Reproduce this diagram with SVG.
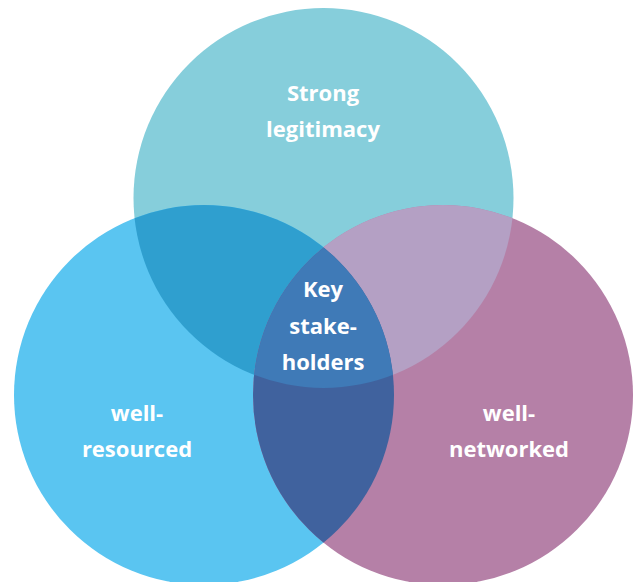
<svg xmlns="http://www.w3.org/2000/svg" width="636" height="582" viewBox="0 0 636 582">
  <style>
    .lbl { font-family: "Open Sans", "Liberation Sans", sans-serif; font-weight: 700; font-size: 22px; fill: #ffffff; text-anchor: middle; }
  </style>
  <defs>
    <clipPath id="cTop"><circle cx="323.5" cy="198" r="190"/></clipPath>
    <clipPath id="cLeft"><circle cx="204" cy="395" r="190"/></clipPath>
    <clipPath id="cRight"><circle cx="443" cy="395" r="190"/></clipPath>
  </defs>
  <rect width="636" height="582" fill="#ffffff"/>
  <g id="circle-top">
    <circle cx="323.5" cy="198" r="190" fill="#86CEDB"/>
  </g>
  <g id="circle-left">
    <circle cx="204" cy="395" r="190" fill="#5AC5F1"/>
  </g>
  <g id="circle-right">
    <circle cx="443" cy="395" r="190" fill="#B580A7"/>
  </g>
  <g id="overlaps">
    <g clip-path="url(#cTop)"><circle cx="204" cy="395" r="190" fill="#2F9FCF"/></g>
    <g clip-path="url(#cTop)"><circle cx="443" cy="395" r="190" fill="#B4A0C4"/></g>
    <g clip-path="url(#cLeft)"><circle cx="443" cy="395" r="190" fill="#40629E"/></g>
    <g clip-path="url(#cTop)"><g clip-path="url(#cLeft)"><circle cx="443" cy="395" r="190" fill="#3F7AB7"/></g></g>
  </g>
  <g id="label-top">
    <text class="lbl" x="323" y="101">Strong</text>
    <text class="lbl" x="323" y="137">legitimacy</text>
  </g>
  <g id="label-center">
    <text class="lbl" x="323" y="297">Key</text>
    <text class="lbl" x="323" y="334">stake-</text>
    <text class="lbl" x="323" y="370">holders</text>
  </g>
  <g id="label-left">
    <text class="lbl" x="137" y="421">well-</text>
    <text class="lbl" x="137" y="457">resourced</text>
  </g>
  <g id="label-right">
    <text class="lbl" x="509" y="421">well-</text>
    <text class="lbl" x="509" y="457">networked</text>
  </g>
</svg>
